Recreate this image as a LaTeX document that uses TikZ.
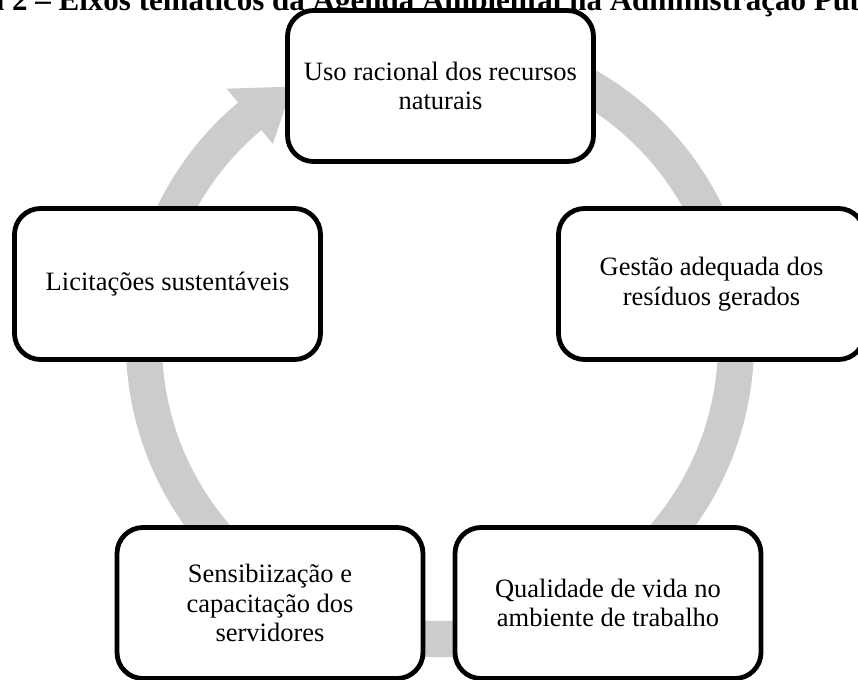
\documentclass[tikz,border=0pt]{standalone}
\usepackage{fontspec}
\setmainfont{Liberation Serif}
\definecolor{ringgray}{RGB}{204,204,204}
\tikzset{
  cyclebox/.style={draw=black, line width=4.8pt, fill=white, rounded corners=26pt,
    minimum width=306pt, minimum height=151pt, inner sep=0pt, align=center,
    font=\fontsize{26.5}{29.5}\selectfont},
  ringband/.style={fill=ringgray, draw=none}
}
\begin{document}
\begin{tikzpicture}[x=1pt,y=1pt]
\useasboundingbox (0,0) rectangle (858,-679);
% title (cropped at top)
\node[anchor=base west, inner sep=0pt, font=\fontsize{31}{33}\selectfont\bfseries] (title) at (12,-11)
  {\llap{Figura }2 -- Eixos temáticos da Agenda Ambiental na Administração Pública (A3P)};
% circular arrow ring
\coordinate (c) at (440,-343);
\fill[ringband, shift={(c)}] (75:314) arc[start angle=75, end angle=-230, radius=314]
  -- (-230:332) -- (-240:296) -- (-230:260) -- (-230:278)
  arc[start angle=-230, end angle=75, radius=278] -- cycle;
% boxes
\node[cyclebox] (uso) at (440.5,-86) {Uso racional dos recursos\\naturais};
\node[cyclebox] (gestao) at (711.5,-284) {Gestão adequada dos\\resíduos gerados};
\node[cyclebox] (quali) at (608,-603) {Qualidade de vida no\\ambiente de trabalho};
\node[cyclebox] (sensi) at (270,-603) {Sensibiização e\\capacitação dos\\servidores};
\node[cyclebox] (licit) at (167.5,-284) {Licitações sustentáveis};
\end{tikzpicture}
\end{document}
